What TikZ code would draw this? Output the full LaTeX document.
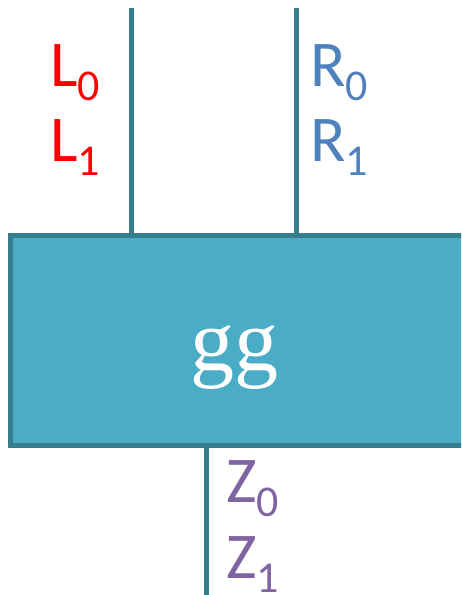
\documentclass[tikz,border=0pt]{standalone}
\usepackage{fontspec}
\setmainfont{Carlito}
\newfontfamily\gatefont{Liberation Serif}
\usetikzlibrary{positioning}
\definecolor{gatefill}{HTML}{4BACC6}
\definecolor{gateedge}{HTML}{367E8E}
\definecolor{lred}{HTML}{FF0000}
\definecolor{rblue}{HTML}{4F81BD}
\definecolor{zpurple}{HTML}{8064A2}
\newcommand{\wireidx}[1]{\raisebox{-10.5pt}{\fontsize{33}{33}\selectfont #1}}

\begin{document}
\begin{tikzpicture}[x=0.75pt,y=-0.75pt,
 gate/.style={draw=gateedge,fill=gatefill,line width=3.75pt,minimum width=345pt,minimum height=157.5pt,inner sep=0pt},
 gatetext/.style={text=white,font=\gatefont\fontsize{66}{66}\selectfont,inner sep=0pt},
 wire/.style={draw=gateedge,line width=3.75pt},
 lbl/.style={font=\fontsize{49}{49}\selectfont,anchor=base west,inner sep=0pt}
]
\clip (0,0) rectangle (461,595);
\node[gate] (gg) at (240,340) {};
\node[gatetext] (gglbl) at ([xshift=-4pt,yshift=-13pt]gg.center) {gg};
% wires
\coordinate (lin) at (131,8);
\coordinate (rin) at (296,8);
\coordinate (zout) at (206,600);
\draw[wire] (lin) -- (lin |- gg.north);
\draw[wire] (rin) -- (rin |- gg.north);
\draw[wire] (zout |- gg.south) -- (zout);
% labels
\node[lbl,text=lred] (l0) at (50,87) {L\wireidx{0}};
\node[lbl,text=lred] (l1) at ([yshift=-56pt]l0.base west) {L\wireidx{1}};
\node[lbl,text=rblue] (r0) at (310,87) {R\wireidx{0}};
\node[lbl,text=rblue] (r1) at ([yshift=-56pt]r0.base west) {R\wireidx{1}};
\node[lbl,text=zpurple] (z0) at (226,502) {Z\wireidx{0}};
\node[lbl,text=zpurple] (z1) at ([yshift=-57pt]z0.base west) {Z\wireidx{1}};
\end{tikzpicture}
\end{document}
